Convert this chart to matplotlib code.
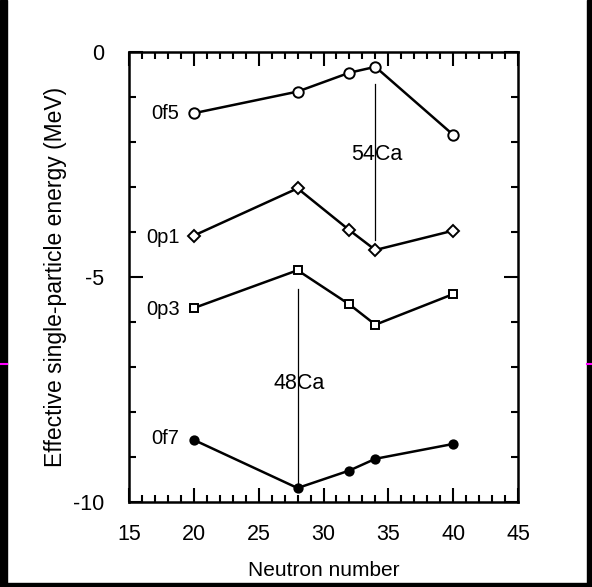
import matplotlib
matplotlib.use("Agg")
import matplotlib.pyplot as plt
from matplotlib.ticker import MultipleLocator
from matplotlib.patches import Rectangle
from matplotlib.lines import Line2D

plt.rcParams['font.family'] = ['Liberation Sans', 'DejaVu Sans']
plt.rcParams['axes.unicode_minus'] = False

# data
neutrons = [20, 28, 32, 34, 40]
e_0f5 = [-1.36, -0.88, -0.46, -0.33, -1.84]
e_0p1 = [-4.08, -3.03, -3.96, -4.40, -3.97]
e_0p3 = [-5.69, -4.85, -5.61, -6.06, -5.38]
e_0f7 = [-8.62, -9.69, -9.30, -9.04, -8.71]

orbitals = ['0f5', '0p1', '0p3', '0f7']
orbital_label_y = [-1.36, -4.13, -5.72, -8.6]

# shell-gap markers: (label, N, line top, line bottom, label y)
gap_names = ['54Ca', '48Ca']
gap_n = [34, 28]
gap_top = [-0.70, -5.27]
gap_bottom = [-4.18, -9.69]
gap_label_y = [-2.27, -7.36]

fig = plt.figure(figsize=(5.92, 5.87), dpi=100)
fig.patch.set_facecolor('white')
ax = fig.add_axes([129/592, 1 - 502/587, (518 - 129)/592, (502 - 52)/587])

series = [
    (e_0f5, dict(marker='o', mfc='white', ms=7.5)),
    (e_0p1, dict(marker='D', mfc='white', ms=6.5)),
    (e_0p3, dict(marker='s', mfc='white', ms=6)),
    (e_0f7, dict(marker='o', mfc='black', ms=6)),
]
for vals, style in series:
    ax.plot(neutrons, vals, color='black', lw=1.8, mec='black', mew=1.4, **style)

for name, y in zip(orbitals, orbital_label_y):
    ax.text(18.9, y, name, ha='right', va='center', fontsize=14.5)

for name, n, top, bot, ly in zip(gap_names, gap_n, gap_top, gap_bottom, gap_label_y):
    ax.plot([n, n], [top, bot], color='black', lw=0.9)
    ax.text(n + 0.1, ly, name, ha='center', va='center', fontsize=15.5)

ax.set_xlim(15, 45)
ax.set_ylim(-10, 0)
ax.xaxis.set_major_locator(MultipleLocator(5))
ax.xaxis.set_minor_locator(MultipleLocator(1))
ax.yaxis.set_major_locator(MultipleLocator(5))
ax.yaxis.set_minor_locator(MultipleLocator(1))
ax.tick_params(which='both', direction='in', top=True, right=True, width=1.5)
ax.tick_params(which='major', length=10)
ax.tick_params(which='minor', length=5)
ax.tick_params(axis='x', which='major', labelsize=15.5, pad=16)
ax.tick_params(axis='y', which='major', labelsize=15.5, pad=18)
for s in ax.spines.values():
    s.set_linewidth(1.8)

ax.set_xlabel('Neutron number', fontsize=15, labelpad=11)
ax.set_ylabel('Effective single-particle energy (MeV)', fontsize=16.5, labelpad=4)

# black frame strips and magenta marks from the scan
fig.patches.append(Rectangle((0, 0), 7/592, 1, transform=fig.transFigure, color='black', zorder=-1))
fig.patches.append(Rectangle((587/592, 0), 5/592, 1, transform=fig.transFigure, color='black', zorder=-1))
fig.patches.append(Rectangle((0, 0), 1, 4/587, transform=fig.transFigure, color='black', zorder=-1))
ymag = 1 - 364/587
fig.lines.append(Line2D([0, 7/592], [ymag, ymag], transform=fig.transFigure, color='#ff00ff', lw=1.5))
fig.lines.append(Line2D([587/592, 1], [ymag, ymag], transform=fig.transFigure, color='#ff00ff', lw=1.5))

fig.savefig('out.png', dpi=100)
